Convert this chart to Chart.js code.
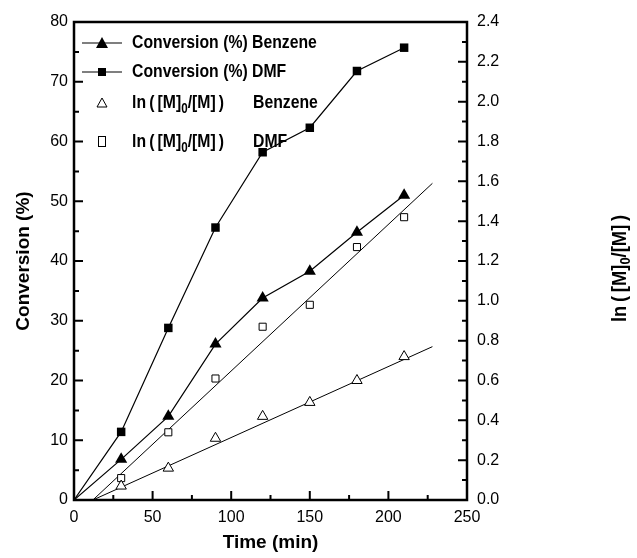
<!DOCTYPE html>
<html>
<head>
<meta charset="utf-8">
<script src="https://cdn.jsdelivr.net/npm/chart.js@4/dist/chart.umd.min.js"></script>
<style>
  html, body { margin: 0; padding: 0; background: #fff; }
  #wrap { width: 637px; height: 558px; }
</style>
</head>
<body>
<div id="wrap"><canvas id="chart"></canvas></div>
<script>
// sampling times (min), first point is the origin
const times = [0, 30, 60, 90, 120, 150, 180, 210];
const convBenzene = [0, 6.8, 14.0, 26.1, 33.8, 38.3, 44.8, 51.0];
const convDMF = [0, 11.4, 28.8, 45.6, 58.2, 62.3, 71.8, 75.7];

// ln([M]0/[M]) values, right axis
const lnTimes = [30, 60, 90, 120, 150, 180, 210];
const lnBenzene = [0.07, 0.16, 0.31, 0.42, 0.49, 0.60, 0.72];
const lnDMF = [0.11, 0.34, 0.61, 0.87, 0.98, 1.27, 1.42];

// linear fits, end points
const fitTimes = [12, 228];
const fitBenzene = [0, 0.77];
const fitDMF = [0, 1.59];

const xTicks = [0, 50, 100, 150, 200, 250];

const FONT = '"Liberation Sans", Arial, sans-serif';

function pts(xs, ys) {
  return xs.map((x, i) => ({ x: x, y: ys[i] }));
}
function markerSizes(n, r) {
  const a = [];
  for (let i = 0; i < n; i++) a.push(i === 0 ? 0 : r);
  return a;
}

// "ln ([M]0/[M])" with the 0 as a subscript
function lnLabel(ctx, x, y, size) {
  ctx.font = 'bold ' + size + 'px ' + FONT;
  ctx.fillText('ln\u2009(\u2009[M]', x, y);
  x += ctx.measureText('ln\u2009(\u2009[M]').width;
  ctx.font = 'bold ' + Math.round(size * 0.72) + 'px ' + FONT;
  ctx.fillText('0', x, y + size * 0.33);
  x += ctx.measureText('0').width;
  ctx.font = 'bold ' + size + 'px ' + FONT;
  ctx.fillText('/[M]\u2009)', x, y);
  return x + ctx.measureText('/[M]\u2009)').width;
}

// frame, inward ticks, right title and the legend
const framePlugin = {
  id: 'frame',
  afterDraw(chart) {
    const ctx = chart.ctx;
    const a = chart.chartArea;
    const sx = chart.scales.x, sy = chart.scales.y, sy1 = chart.scales.y1;
    ctx.save();
    ctx.strokeStyle = '#000';
    ctx.lineWidth = 2.5;
    ctx.strokeRect(a.left, a.top, a.right - a.left, a.bottom - a.top);

    ctx.lineWidth = 2;
    ctx.beginPath();
    for (let v = 0; v <= 250; v += 25) {
      const p = sx.getPixelForValue(v);
      const len = v % 50 === 0 ? 9 : 5;
      ctx.moveTo(p, a.bottom);
      ctx.lineTo(p, a.bottom - len);
    }
    for (let v = 0; v <= 80; v += 5) {
      const p = sy.getPixelForValue(v);
      const len = v % 10 === 0 ? 9 : 5;
      ctx.moveTo(a.left, p);
      ctx.lineTo(a.left + len, p);
    }
    for (let i = 0; i <= 24; i++) {
      const p = sy1.getPixelForValue(i / 10);
      const len = i % 2 === 0 ? 9 : 5;
      ctx.moveTo(a.right, p);
      ctx.lineTo(a.right - len, p);
    }
    ctx.stroke();

    ctx.fillStyle = '#000';
    ctx.textBaseline = 'middle';

    // right axis title, reads bottom to top
    ctx.save();
    ctx.translate(620, 322);
    ctx.rotate(-Math.PI / 2);
    ctx.scale(0.92, 1);
    lnLabel(ctx, 0, 0, 20);
    ctx.restore();

    // legend
    const lx = a.left + 8, tx = a.left + 58;
    const rows = [43, 72, 103, 142];
    ctx.lineWidth = 1.2;
    ctx.beginPath();
    ctx.moveTo(lx, rows[0]); ctx.lineTo(lx + 40, rows[0]);
    ctx.moveTo(lx, rows[1]); ctx.lineTo(lx + 40, rows[1]);
    ctx.stroke();
    // filled triangle
    ctx.beginPath();
    ctx.moveTo(lx + 20, rows[0] - 6);
    ctx.lineTo(lx + 26, rows[0] + 5);
    ctx.lineTo(lx + 14, rows[0] + 5);
    ctx.closePath();
    ctx.fill();
    // filled square
    ctx.fillRect(lx + 16, rows[1] - 4, 8, 8);
    // open triangle
    ctx.lineWidth = 1;
    ctx.beginPath();
    ctx.moveTo(lx + 20, rows[2] - 5);
    ctx.lineTo(lx + 25, rows[2] + 4);
    ctx.lineTo(lx + 15, rows[2] + 4);
    ctx.closePath();
    ctx.stroke();
    // open square
    ctx.strokeRect(lx + 16.5, rows[3] - 5.5, 7, 10);

    const squeeze = 0.83;
    ctx.save();
    ctx.translate(tx, 0);
    ctx.scale(squeeze, 1);
    ctx.font = 'bold 19px ' + FONT;
    ctx.fillText('Conversion (%) Benzene', 0, rows[0]);
    ctx.fillText('Conversion (%) DMF', 0, rows[1]);
    lnLabel(ctx, 0, rows[2], 19);
    lnLabel(ctx, 0, rows[3], 19);
    ctx.font = 'bold 19px ' + FONT;
    ctx.fillText('Benzene', (a.left + 179 - tx) / squeeze, rows[2]);
    ctx.fillText('DMF', (a.left + 179 - tx) / squeeze, rows[3]);
    ctx.restore();

    ctx.restore();
  }
};

const ctx = document.getElementById('chart').getContext('2d');
const chart = new Chart(ctx, {
  type: 'line',
  data: {
    datasets: [
      {
        label: 'Conversion (%) Benzene',
        data: pts(times, convBenzene),
        yAxisID: 'y',
        borderColor: '#000',
        backgroundColor: '#000',
        borderWidth: 1.2,
        pointStyle: 'triangle',
        pointRadius: markerSizes(times.length, 7),
        pointBorderWidth: 0
      },
      {
        label: 'Conversion (%) DMF',
        data: pts(times, convDMF),
        yAxisID: 'y',
        borderColor: '#000',
        backgroundColor: '#000',
        borderWidth: 1.2,
        pointStyle: 'rect',
        pointRadius: markerSizes(times.length, 6),
        pointBorderWidth: 0
      },
      {
        label: 'ln([M]0/[M]) Benzene',
        data: pts(lnTimes, lnBenzene),
        yAxisID: 'y1',
        showLine: false,
        borderColor: '#000',
        backgroundColor: '#fff',
        pointStyle: 'triangle',
        pointRadius: 6,
        pointBorderWidth: 1
      },
      {
        label: 'ln([M]0/[M]) DMF',
        data: pts(lnTimes, lnDMF),
        yAxisID: 'y1',
        showLine: false,
        borderColor: '#000',
        backgroundColor: '#fff',
        pointStyle: 'rect',
        pointRadius: 5,
        pointBorderWidth: 1
      },
      {
        label: 'fit Benzene',
        data: pts(fitTimes, fitBenzene),
        yAxisID: 'y1',
        borderColor: '#000',
        borderWidth: 1,
        pointRadius: 0
      },
      {
        label: 'fit DMF',
        data: pts(fitTimes, fitDMF),
        yAxisID: 'y1',
        borderColor: '#000',
        borderWidth: 1,
        pointRadius: 0
      }
    ]
  },
  options: {
    responsive: true,
    maintainAspectRatio: false,
    animation: false,
    layout: { padding: { top: 22, right: 4, left: 0, bottom: 4 } },
    plugins: {
      legend: { display: false },
      tooltip: { enabled: false }
    },
    scales: {
      x: {
        type: 'linear',
        min: 0,
        max: 250,
        afterBuildTicks: (s) => { s.ticks = xTicks.map(v => ({ value: v })); },
        grid: { display: false, drawTicks: false },
        border: { display: false },
        ticks: { color: '#000', padding: 8, font: { family: FONT, size: 16 } },
        title: { display: true, text: 'Time (min)', color: '#000', padding: { top: 0, bottom: 0 }, font: { family: FONT, size: 19, weight: 'bold' } },
        afterFit: (s) => { s.height = 54; }
      },
      y: {
        position: 'left',
        min: 0,
        max: 80,
        ticks: { stepSize: 10, color: '#000', padding: 6, font: { family: FONT, size: 16 } },
        grid: { display: false, drawTicks: false },
        border: { display: false },
        title: { display: true, text: 'Conversion (%)', color: '#000', padding: { top: 12, bottom: 0 }, font: { family: FONT, size: 19, weight: 'bold' } },
        afterFit: (s) => { s.width = 74; }
      },
      y1: {
        position: 'right',
        min: 0,
        max: 2.4,
        ticks: { stepSize: 0.2, color: '#000', padding: 10, font: { family: FONT, size: 16 }, callback: (v) => v.toFixed(1) },
        grid: { display: false, drawTicks: false },
        border: { display: false },
        afterFit: (s) => { s.width = 166; }
      }
    }
  },
  plugins: [framePlugin]
});
</script>
</body>
</html>
